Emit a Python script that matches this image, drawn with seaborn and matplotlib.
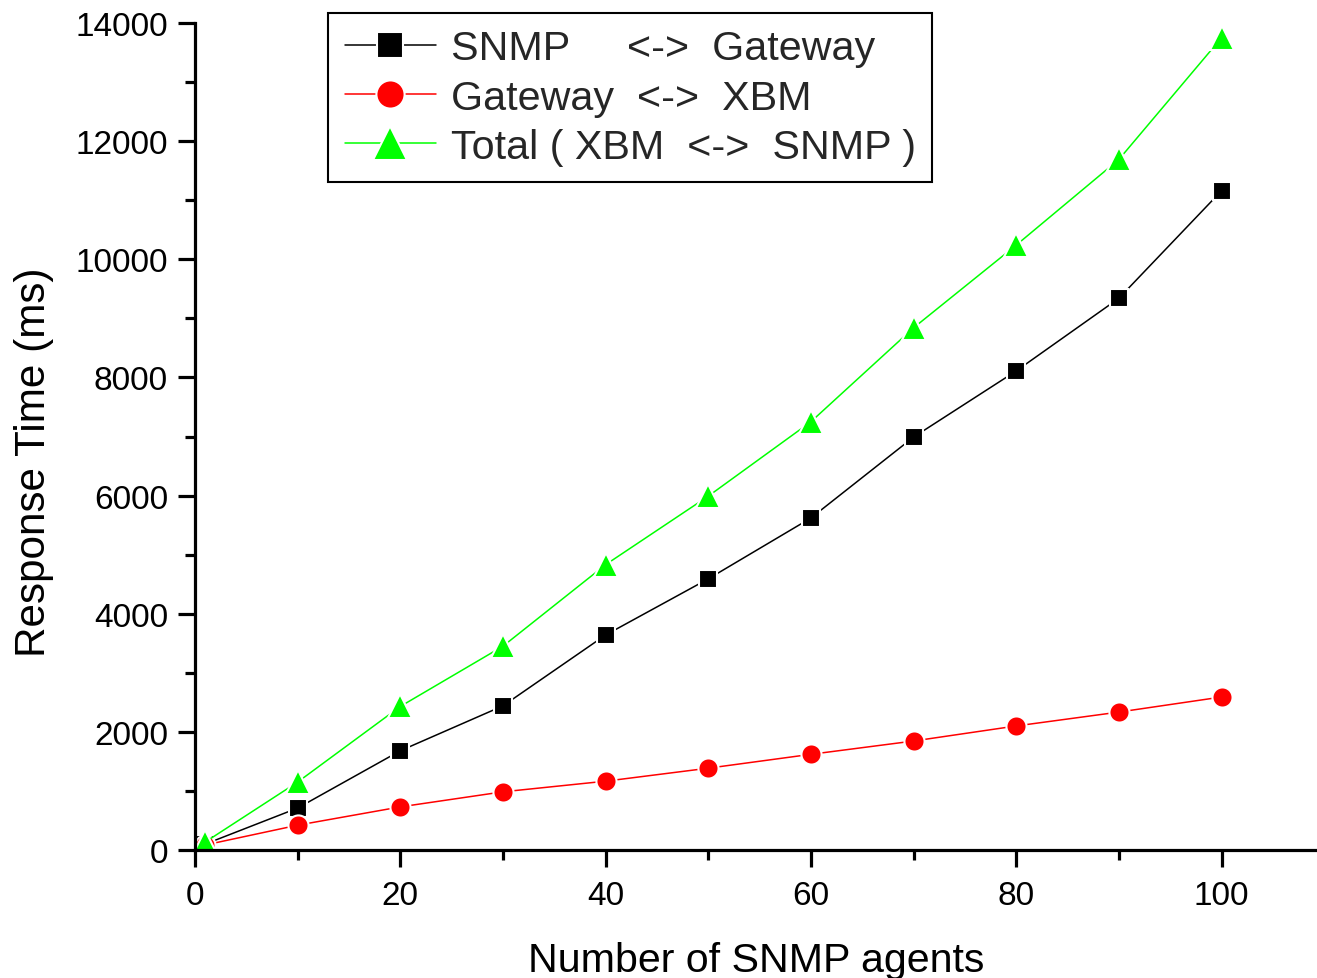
import matplotlib
matplotlib.use("Agg")
import matplotlib.pyplot as plt
from matplotlib.ticker import MultipleLocator
import seaborn as sns
import pandas as pd

agents = [1, 10, 20, 30, 40, 50, 60, 70, 80, 90, 100]
snmp_gateway = [100, 710, 1680, 2440, 3640, 4590, 5620, 6990, 8110, 9340, 11160]
gateway_xbm = [85, 420, 730, 985, 1165, 1385, 1620, 1845, 2100, 2335, 2590]
total = [135, 1150, 2430, 3450, 4830, 5990, 7250, 8840, 10240, 11690, 13750]

labels = ["SNMP     <->  Gateway", "Gateway  <->  XBM", "Total ( XBM  <->  SNMP )"]
colors = ["#000000", "#FF0000", "#00FF00"]
markers = ["s", "o", "^"]
msizes = [13, 14.5, 17.5]

df = pd.DataFrame({
    "agents": agents * 3,
    "time": snmp_gateway + gateway_xbm + total,
    "series": [labels[0]] * len(agents) + [labels[1]] * len(agents) + [labels[2]] * len(agents),
})

sns.set_theme(style="ticks")
plt.rcParams["font.family"] = ["Liberation Sans", "DejaVu Sans"]

fig = plt.figure(figsize=(13.17, 9.79), dpi=100)
ax = fig.add_axes([195 / 1317, 1 - 851 / 979, 1 - 195 / 1317, (851 - 24) / 979])

for lab, col, mk, ms in zip(labels, colors, markers, msizes):
    sub = df[df["series"] == lab]
    sns.lineplot(data=sub, x="agents", y="time", ax=ax, color=col, marker=mk,
                 markersize=ms, markeredgecolor="white", markeredgewidth=1.5,
                 linewidth=1.1, label=lab)

ax.set_xlim(0, 109.3)
ax.set_ylim(0, 14000)
ax.xaxis.set_major_locator(MultipleLocator(20))
ax.xaxis.set_minor_locator(MultipleLocator(10))
ax.yaxis.set_major_locator(MultipleLocator(2000))
ax.yaxis.set_minor_locator(MultipleLocator(1000))

for s in ["top", "right"]:
    ax.spines[s].set_visible(False)
for s in ["left", "bottom"]:
    ax.spines[s].set_linewidth(2.3)
    ax.spines[s].set_color("black")

ax.tick_params(which="major", length=12.5, width=2.3, direction="out", labelsize=24, colors="black")
ax.tick_params(which="minor", length=7, width=2.3, direction="out", colors="black")
ax.tick_params(axis="x", which="major", pad=9)
ax.tick_params(axis="y", which="major", pad=7)

ax.set_xlabel("Number of SNMP agents", fontsize=29.6, labelpad=22, color="black")
ax.set_ylabel("Response Time (ms)", fontsize=30.4, color="black")
ax.yaxis.set_label_coords(-0.1255, 0.470)

leg = ax.legend(loc="upper left", bbox_to_anchor=(328 / 1317, 1 - 14 / 979),
                bbox_transform=fig.transFigure, borderaxespad=0, fontsize=29.7,
                markerscale=1.4, handlelength=2.23, handletextpad=0.34,
                labelspacing=0.27, borderpad=0.4, fancybox=False, framealpha=1,
                edgecolor="black")
leg.get_frame().set_linewidth(1.5)

fig.savefig("out.png", dpi=100)
